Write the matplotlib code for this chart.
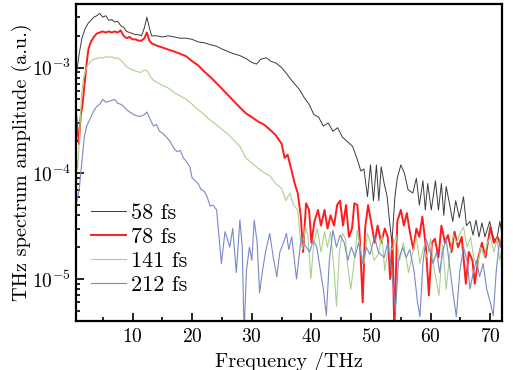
import matplotlib
matplotlib.use("Agg")
import matplotlib.pyplot as plt
from matplotlib.ticker import MultipleLocator, LogLocator

plt.rcParams['font.family'] = 'serif'
plt.rcParams['font.serif'] = ['cmr10']
plt.rcParams['mathtext.fontset'] = 'cm'
plt.rcParams['axes.formatter.use_mathtext'] = True

labels = ["58 fs", "78 fs", "141 fs", "212 fs"]

f58 = [0.5, 1.0, 1.5, 2.0, 2.5, 3.0, 3.5, 4.0, 4.5, 5.0, 5.5, 6.0, 6.5, 7.0, 7.5, 8.0, 8.5, 9.0, 9.5, 10,
       10.5, 11, 11.5, 12, 12.4, 12.8, 13.2, 14, 15, 16, 17, 18, 19, 20, 21, 22, 23, 24, 25, 26, 27, 28, 29, 30,
       30.8, 31.5, 32.4, 33.2, 34.1, 35, 35.8, 36.5, 37.2, 38, 38.8, 39.6, 40.4, 41.2, 42, 42.8, 43.6, 44.4,
       45.2, 46, 46.9, 47.6, 48.3, 48.8, 49.4, 49.9, 50.4, 50.9, 51.3, 51.7, 52.2, 52.7, 53.1, 53.5, 54, 54.4,
       55, 55.6, 56.2, 57, 57.6, 58.1, 58.7, 59.1, 59.5, 60.1, 60.8, 61.3, 61.8, 62.2, 62.6, 63.2, 63.7, 64.2,
       64.8, 65.5, 66, 66.6, 67.1, 67.6, 68.1, 68.6, 69.1, 69.9, 70.5, 71, 71.6, 72]
a58 = [8e-4, 1.3e-3, 1.9e-3, 2.3e-3, 2.6e-3, 2.8e-3, 3.0e-3, 3.1e-3, 3.25e-3, 3.0e-3, 3.1e-3, 2.8e-3, 2.85e-3,
       2.7e-3, 2.75e-3, 2.5e-3, 2.4e-3, 2.2e-3, 2.15e-3, 2.1e-3, 2.05e-3, 2.05e-3, 2.0e-3, 2.4e-3, 3.0e-3,
       2.4e-3, 2.0e-3, 2.0e-3, 1.95e-3, 2.0e-3, 1.95e-3, 1.9e-3, 1.9e-3, 1.85e-3, 1.75e-3, 1.72e-3, 1.65e-3,
       1.6e-3, 1.5e-3, 1.42e-3, 1.35e-3, 1.3e-3, 1.22e-3, 1.12e-3, 1.08e-3, 1.2e-3, 1.24e-3, 1.15e-3, 1.1e-3,
       1.0e-3, 8.8e-4, 7.8e-4, 7.0e-4, 6.2e-4, 5.2e-4, 4.5e-4, 3.6e-4, 3.4e-4, 2.8e-4, 3.0e-4, 2.5e-4, 2.7e-4,
       2.2e-4, 2.0e-4, 1.8e-4, 1.4e-4, 1.05e-4, 1.1e-4, 6e-5, 1.2e-4, 5.5e-5, 1.2e-4, 5.5e-5, 1.15e-4, 8e-5,
       6e-5, 3.5e-5, 2.2e-5, 6e-5, 9e-5, 1.2e-4, 1.0e-4, 7e-5, 6.5e-5, 9e-5, 5e-5, 8.5e-5, 4.5e-5, 8e-5, 4.5e-5,
       8.5e-5, 4.5e-5, 8e-5, 4e-5, 7.5e-5, 5e-5, 3.5e-5, 5.5e-5, 3.8e-5, 6e-5, 3.2e-5, 3.5e-5, 2.6e-5, 3.6e-5,
       2.5e-5, 3.4e-5, 2.5e-5, 3.5e-5, 2.5e-5, 2.2e-5, 3.5e-5, 2.6e-5]

f78 = [0.5, 0.8, 1.0, 1.3, 1.6, 2.0, 2.3, 2.6, 3.0, 3.5, 4.0, 4.5, 5.0, 5.5, 6.0, 6.5, 7.0, 7.5, 8.0, 8.5, 9.0,
       9.5, 10, 10.5, 11, 11.5, 12, 12.4, 12.8, 13.2, 14, 15, 16, 17, 18, 19, 20, 21, 22, 23, 24, 25, 26, 27, 28,
       29, 30, 31, 32, 33, 34, 35, 35.5, 36, 36.6, 37.2, 37.7, 38.2, 38.6, 39.1, 39.6, 40, 40.5, 41.1, 41.6,
       42.2, 42.7, 43.2, 43.8, 44.3, 44.8, 45.3, 45.8, 46.3, 46.8, 47.2, 47.7, 48.1, 48.6, 49.0, 49.5, 50.0,
       50.6, 51.1, 51.7, 52.3, 52.8, 53.2, 53.6, 53.9, 54.4, 55, 55.5, 56, 56.5, 57.1, 57.6, 58.1, 58.6, 59.2,
       59.7, 60.2, 60.7, 61.3, 61.8, 62.4, 62.9, 63.5, 64, 64.6, 65.2, 65.9, 66.4, 67, 67.4, 68, 68.6, 69.2, 70,
       70.6, 71.2, 72]
a78 = [3.7e-4, 2.5e-4, 1.9e-4, 3.5e-4, 4.4e-4, 7.5e-4, 1.1e-3, 1.5e-3, 1.75e-3, 1.95e-3, 2.1e-3, 2.15e-3,
       2.2e-3, 2.15e-3, 2.2e-3, 2.15e-3, 2.2e-3, 2.15e-3, 2.25e-3, 2.0e-3, 1.9e-3, 1.95e-3, 1.85e-3, 1.85e-3,
       1.8e-3, 1.8e-3, 1.9e-3, 2.15e-3, 1.8e-3, 1.7e-3, 1.62e-3, 1.55e-3, 1.48e-3, 1.42e-3, 1.35e-3, 1.28e-3,
       1.15e-3, 1.05e-3, 9.2e-4, 8.2e-4, 7.2e-4, 6.3e-4, 5.5e-4, 4.8e-4, 4.2e-4, 3.7e-4, 3.4e-4, 3.1e-4, 2.9e-4,
       2.6e-4, 2.3e-4, 1.9e-4, 1.4e-4, 1.5e-4, 1.1e-4, 8e-5, 6.5e-5, 4e-5, 1.8e-5, 5.2e-5, 4.5e-5, 2.2e-5,
       3.5e-5, 4.5e-5, 3.2e-5, 4.5e-5, 3.0e-5, 4.0e-5, 3.2e-5, 5.0e-5, 5.5e-5, 3.2e-5, 5.0e-5, 2.5e-5, 3.0e-5,
       5.2e-5, 5.0e-5, 2.5e-5, 6e-6, 3e-5, 5e-5, 3.5e-5, 2.2e-5, 3.2e-5, 2.2e-5, 3.0e-5, 2.5e-5, 1.0e-5, 2.4e-5,
       3e-6, 3.5e-5, 4.5e-5, 3.2e-5, 4.2e-5, 2.8e-5, 1.9e-5, 3e-5, 2.5e-5, 3.9e-5, 2.0e-5, 7e-6, 2.2e-5, 2.4e-5,
       1.6e-5, 3.2e-5, 2.2e-5, 2.6e-5, 1.8e-5, 2.8e-5, 2.0e-5, 2.5e-5, 9e-6, 1.8e-5, 1.5e-5, 9e-6, 1.6e-5,
       2.2e-5, 1.6e-5, 3.1e-5, 2.2e-5, 2.5e-5, 1.9e-5]

f141 = [0.5, 0.8, 1.1, 1.45, 1.8, 2.3, 3.0, 3.5, 4.0, 4.5, 5.0, 5.5, 6.0, 6.5, 7.0, 7.5, 8.0, 8.5, 9.0, 9.5,
        10.0, 10.7, 11.3, 12.0, 12.5, 13.0, 13.5, 14.0, 15, 16, 17, 18, 19, 20, 21, 22, 23, 24, 25, 26, 27, 28,
        29, 30, 31, 32, 33, 34, 35, 35.7, 36.4, 37.0, 37.7, 38.1, 38.5, 39.0, 39.4, 39.9, 40.4, 41.0, 41.6,
        42.2, 42.7, 43.2, 43.8, 44.2, 44.7, 45.2, 45.7, 46.1, 46.6, 47.2, 47.7, 48.3, 48.8, 49.4, 49.9, 50.5,
        51.2, 51.8, 52.3, 52.9, 53.6, 54.2, 54.8, 55.4, 56.3, 57.0, 57.6, 58.2, 58.8, 59.4, 60.0, 60.5, 61.4,
        62.0, 62.6, 63.2, 63.8, 64.4, 65.0, 65.5, 66.1, 66.7, 67.2, 67.8, 68.4, 69.0, 69.5, 70.0, 70.6, 71.1,
        71.6, 72]
a141 = [1.6e-4, 1.1e-4, 2.2e-4, 5.7e-4, 8e-4, 1.02e-3, 1.15e-3, 1.2e-3, 1.22e-3, 1.25e-3, 1.23e-3, 1.27e-3,
        1.25e-3, 1.27e-3, 1.22e-3, 1.24e-3, 1.18e-3, 1.1e-3, 1.02e-3, 9.8e-4, 9.5e-4, 9.2e-4, 9.0e-4, 9.5e-4,
        9.3e-4, 8.2e-4, 7.6e-4, 7.3e-4, 6.8e-4, 6.4e-4, 5.8e-4, 5.4e-4, 5.0e-4, 4.5e-4, 4.0e-4, 3.6e-4, 3.2e-4,
        2.9e-4, 2.6e-4, 2.35e-4, 2.05e-4, 1.8e-4, 1.4e-4, 1.25e-4, 1.12e-4, 1.02e-4, 9.5e-5, 8e-5, 7.2e-5,
        5.5e-5, 6.5e-5, 5e-5, 4.5e-5, 2.5e-5, 1.9e-5, 3.2e-5, 2.6e-5, 1.0e-5, 2.2e-5, 3.0e-5, 1.8e-5, 2.8e-5,
        2.0e-5, 2.8e-5, 1.2e-5, 5.5e-6, 1.8e-5, 2.7e-5, 2.4e-5, 1.3e-5, 8e-6, 1.5e-5, 2.9e-5, 1.8e-5, 1.4e-5,
        2.7e-5, 2.2e-5, 1.5e-5, 1.7e-5, 2.6e-5, 1.2e-5, 2.0e-5, 1.9e-5, 2.6e-5, 1.5e-5, 2.2e-5, 1.15e-5, 1.8e-5,
        2.5e-5, 1.4e-5, 2.0e-5, 1.6e-5, 2.4e-5, 1.3e-5, 7e-6, 2.1e-5, 8e-6, 1.7e-5, 2.6e-5, 2.2e-5, 2.8e-5,
        3.1e-5, 2.0e-5, 2.5e-5, 1.6e-5, 1.3e-5, 2.0e-5, 1.6e-5, 2.2e-5, 2.5e-5, 1.8e-5, 2.4e-5, 1.5e-5, 2.0e-5]

f212 = [0.5, 0.7, 1.1, 1.5, 1.9, 2.3, 3.0, 3.5, 4.0, 4.5, 5.0, 5.5, 6.0, 6.5, 7.0, 7.5, 8.0, 8.5, 9.0, 9.5,
        10.2, 10.7, 11.3, 12.0, 12.4, 13.0, 13.5, 14.0, 14.5, 15.0, 15.7, 16.3, 17.0, 17.5, 18.0, 18.5, 19.0,
        19.6, 20.0, 20.5, 21.0, 21.5, 22.0, 22.5, 23.0, 23.5, 24.1, 24.5, 24.9, 25.5, 25.9, 26.3, 26.8, 27.4,
        28.0, 28.4, 28.7, 29.1, 29.6, 30.0, 30.4, 30.9, 31.3, 31.8, 32.3, 33.0, 33.6, 34.2, 34.7, 35.3, 35.8,
        36.2, 36.7, 37.5, 38.3, 38.9, 39.7, 40.3, 40.9, 41.5, 42.0, 42.5, 43.0, 43.6, 44.2, 44.8, 45.5, 46.1,
        46.7, 47.3, 47.9, 48.6, 49.2, 49.8, 50.6, 51.2, 52.2, 52.8, 53.6, 54.1, 54.6, 55.3, 55.9, 56.5, 57.2,
        57.8, 58.2, 58.7, 59.2, 59.8, 60.4, 61.0, 61.5, 62.0, 62.6, 63.2, 63.8, 64.3, 64.9, 65.5, 66.1, 66.6,
        67.2, 67.7, 68.2, 68.8, 69.4, 70.0, 70.5, 71.0, 71.6, 72]
a212 = [5e-5, 5.6e-5, 7.5e-5, 1.3e-4, 2.2e-4, 2.8e-4, 3.4e-4, 3.9e-4, 4.3e-4, 4.5e-4, 5e-4, 4.7e-4, 4.8e-4,
        4.9e-4, 5.0e-4, 4.6e-4, 4.5e-4, 4.3e-4, 4.0e-4, 3.8e-4, 3.6e-4, 3.5e-4, 3.45e-4, 3.6e-4, 3.8e-4, 3.2e-4,
        2.8e-4, 2.9e-4, 2.5e-4, 2.4e-4, 2.2e-4, 2.0e-4, 1.7e-4, 1.6e-4, 1.65e-4, 1.4e-4, 1.3e-4, 1.15e-4, 9e-5,
        8.5e-5, 8e-5, 7e-5, 6.8e-5, 6e-5, 4.9e-5, 5e-5, 4.5e-5, 2.5e-5, 1.4e-5, 2.8e-5, 2.4e-5, 2.0e-5, 3e-5,
        1.15e-5, 3.6e-5, 2e-5, 3e-6, 1.2e-5, 2e-5, 1.5e-5, 3.6e-5, 2.2e-5, 7.4e-6, 1.2e-5, 1.8e-5, 2.7e-5,
        1.6e-5, 1.05e-5, 1.8e-5, 2.2e-5, 2.7e-5, 1.9e-5, 2.5e-5, 1.0e-5, 2.5e-5, 2.1e-5, 1.8e-5, 2.3e-5, 2.0e-5,
        1.2e-5, 8e-6, 4.5e-6, 1.5e-5, 2.9e-5, 2.0e-5, 2.6e-5, 2.2e-5, 1.5e-5, 2.0e-5, 1.6e-5, 2.2e-5, 1.4e-5,
        2.0e-5, 1.7e-5, 2.5e-5, 1.8e-5, 1.6e-5, 2.2e-5, 1.0e-5, 5e-6, 1.5e-5, 2.0e-5, 1.6e-5, 1.9e-5, 1.2e-5,
        6e-6, 4.4e-6, 1.4e-5, 2.4e-5, 1.9e-5, 1.4e-5, 1.8e-5, 1.15e-5, 1.8e-5, 2.4e-5, 1.3e-5, 7e-6, 4.4e-6,
        1.2e-5, 2e-5, 1.5e-5, 8e-6, 1.2e-5, 1.5e-5, 1.05e-5, 1.4e-5, 8e-6, 6e-6, 4.5e-6, 1.2e-5, 2.4e-5, 1.8e-5]

freqs = [f58, f78, f141, f212]
amps = [a58, a78, a141, a212]
colors = ["#3a3a3a", "#ff1c1c", "#a9d18e", "#7c88c4"]
widths = [0.7, 1.4, 0.8, 0.8]

fig = plt.figure(figsize=(5.13, 3.70), dpi=100)
ax = fig.add_axes([0.148, 0.1324, 0.831, 0.8568])
for f, a, c, w, lab in zip(freqs, amps, colors, widths, labels):
    ax.plot(f, a, color=c, lw=w, label=lab)

ax.set_yscale('log')
ax.set_xlim(0.5, 72)
ax.set_ylim(4e-6, 4e-3)
ax.xaxis.set_major_locator(MultipleLocator(10))
ax.xaxis.set_minor_locator(MultipleLocator(5))
ax.yaxis.set_major_locator(LogLocator(base=10, numticks=10))
ax.yaxis.set_minor_locator(LogLocator(base=10, subs=range(2, 10), numticks=10))
ax.tick_params(which='both', direction='in', top=False, right=False, labelsize=14, width=1.2)
ax.tick_params(which='major', length=6)
ax.tick_params(which='minor', length=3)
ax.tick_params(axis='x', pad=5)
for s in ax.spines.values():
    s.set_linewidth(1.6)

ax.set_xlabel("Frequency /THz", fontsize=14.6, labelpad=4)
ax.set_ylabel("THz spectrum amplitude (a.u.)", fontsize=14.6, labelpad=0)

leg = ax.legend(loc='lower left', bbox_to_anchor=(0.036, 0.083), frameon=False, fontsize=16,
                handlelength=1.55, handletextpad=0.25, labelspacing=0.2, borderaxespad=0.0,
                borderpad=0.0)

fig.savefig("out.png", dpi=100)
